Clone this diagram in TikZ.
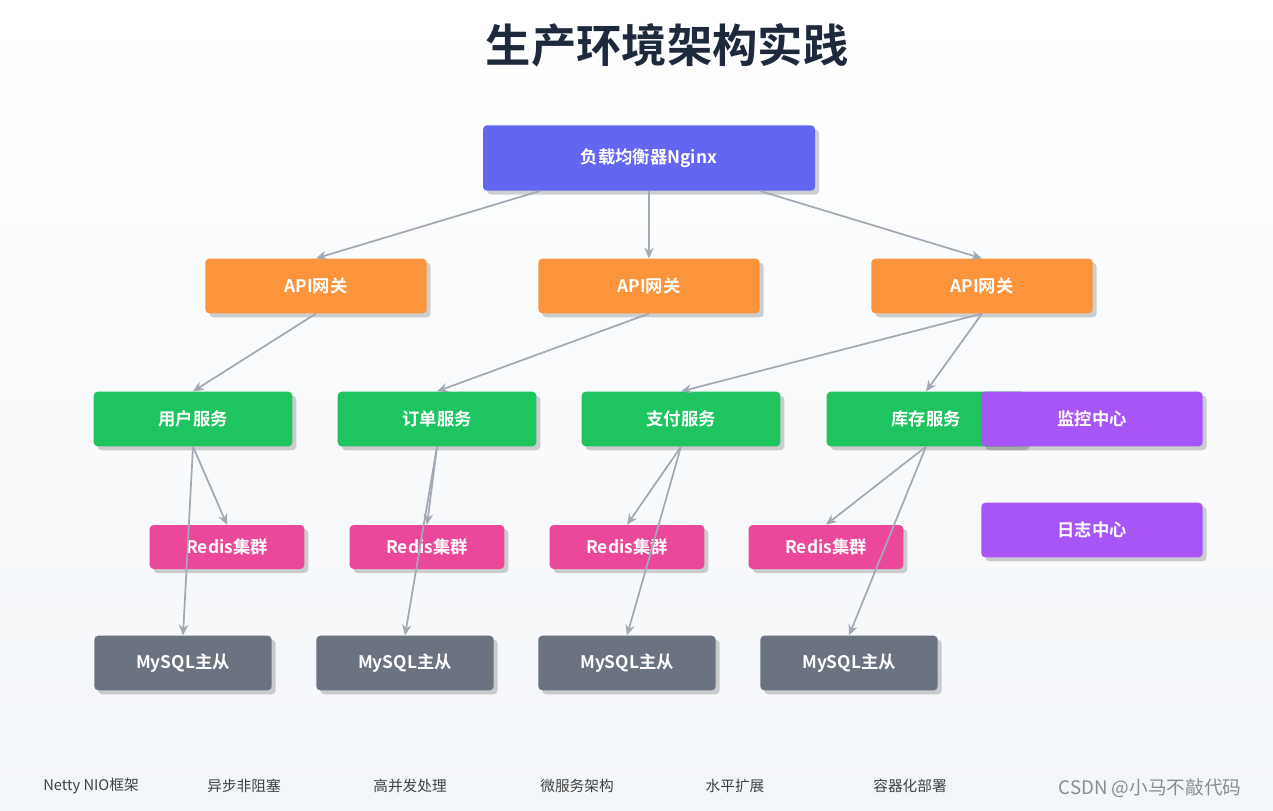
\documentclass[tikz,border=0pt]{standalone}
\usepackage{fontspec}
\setmainfont{Noto Sans CJK SC}
\newfontfamily\cjkb{Noto Sans CJK SC Bold}
\usetikzlibrary{shadows,arrows.meta}
\definecolor{cnginx}{HTML}{6366F1}
\definecolor{capi}{HTML}{FB943A}
\definecolor{csvc}{HTML}{1EC55F}
\definecolor{cmon}{HTML}{A855F7}
\definecolor{credis}{HTML}{EC4899}
\definecolor{cdb}{HTML}{6B7280}
\definecolor{cline}{HTML}{A3A9B3}
\definecolor{ctitle}{HTML}{1E293B}
\definecolor{cbg}{HTML}{F3F6F9}
\begin{document}
\begin{tikzpicture}[x=0.75pt,y=-0.75pt,
 box/.style={rounded corners=3pt,text=white,font=\cjkb\fontsize{13}{15}\selectfont,inner sep=0pt,
   drop shadow={shadow xshift=3pt,shadow yshift=-3pt,opacity=0.18,fill=black}},
 arr/.style={draw=cline,line width=1.3pt,-{Stealth[length=8pt,width=7pt,open]}},
 foot/.style={font=\fontsize{11}{13}\selectfont,text=black!75}]
\useasboundingbox (0,0) rectangle (1273,810);
\fill[top color=white,bottom color=cbg] (0,0) rectangle (1273,810);
\node[font=\cjkb\fontsize{34}{40}\selectfont,text=ctitle] (title) at (667,45) {生产环境架构实践};
\node[box,fill=cnginx,minimum width=249pt,minimum height=49pt] (ng) at (649,158) {负载均衡器Nginx};
\foreach \n/\x in {a1/316,a2/649,a3/982}
  \node[box,fill=capi,minimum width=166pt,minimum height=41pt] (\n) at (\x,286) {API网关};
\foreach \n/\x/\t in {s1/193/用户服务,s2/437/订单服务,s3/681/支付服务,s4/926/库存服务}
  \node[box,fill=csvc,minimum width=149pt,minimum height=41pt] (\n) at (\x,419) {\t};
\node[box,fill=cmon,minimum width=166pt,minimum height=41pt] (mon) at (1092,419) {监控中心};
\node[box,fill=cmon,minimum width=166pt,minimum height=41pt] (log) at (1092,530) {日志中心};
\foreach \n/\x in {r1/227,r2/427,r3/627,r4/826}
  \node[box,fill=credis,minimum width=116pt,minimum height=33pt] (\n) at (\x,547) {Redis集群};
\foreach \n/\x in {m1/183,m2/405,m3/627,m4/849}
  \node[box,fill=cdb,minimum width=133pt,minimum height=41pt] (\n) at (\x,663) {MySQL主从};
\coordinate (ngL) at (540,191); \coordinate (ngR) at (760,191);
\draw[arr] (ngL) -- (a1.north);
\draw[arr] (ng.south) -- (a2.north);
\draw[arr] (ngR) -- (a3.north);
\draw[arr] (a1.south) -- (s1.north);
\draw[arr] (a2.south) -- (s2.north);
\draw[arr] (a3.south) -- (s3.north);
\draw[arr] (a3.south) -- (s4.north);
\draw[arr] (s1.south) -- (r1.north);
\draw[arr] (s1.south) -- (m1.north);
\draw[arr] (s2.south) -- (r2.north);
\draw[arr] (s2.south) -- (m2.north);
\draw[arr] (s3.south) -- (r3.north);
\draw[arr] (s3.south) -- (m3.north);
\draw[arr] (s4.south) -- (r4.north);
\draw[arr] (s4.south) -- (m4.north);
\node[foot] (f1) at (91,786) {Netty NIO框架};
\node[foot] (f2) at (244,786) {异步非阻塞};
\node[foot] (f3) at (410,786) {高并发处理};
\node[foot] (f4) at (577,786) {微服务架构};
\node[foot] (f5) at (735,786) {水平扩展};
\node[foot] (f6) at (910,786) {容器化部署};
\node[font=\fontsize{14}{16}\selectfont,text=black!45] (wm) at (1150,788) {CSDN @小马不敲代码};
\end{tikzpicture}
\end{document}
